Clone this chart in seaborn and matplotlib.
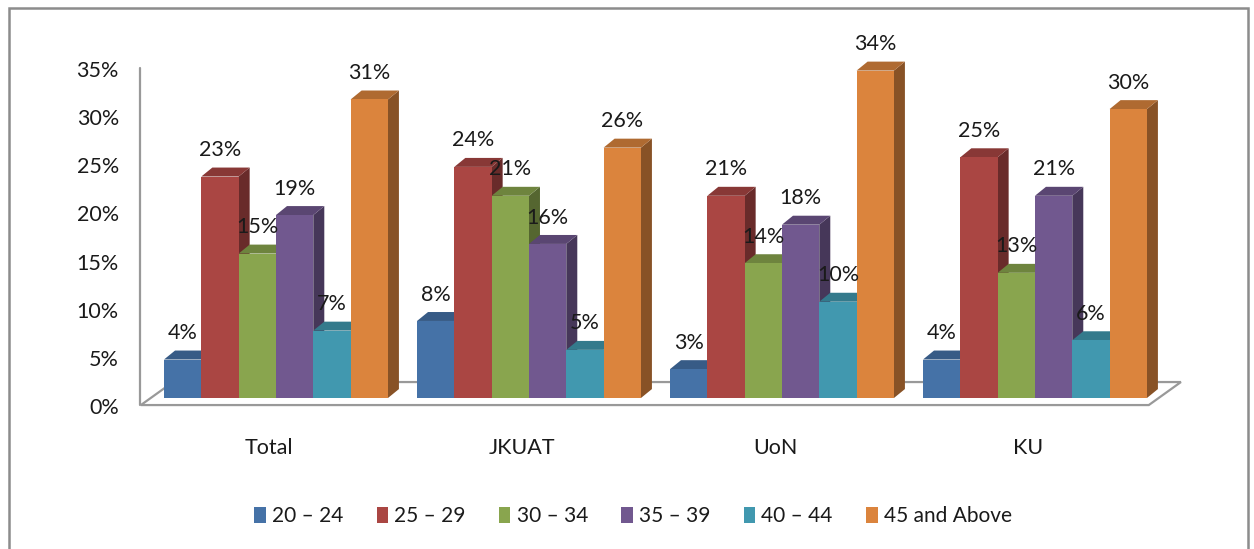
import pandas as pd
import seaborn as sns
import matplotlib.pyplot as plt
from matplotlib.patches import Polygon, Rectangle
from matplotlib.transforms import ScaledTranslation
from matplotlib.ticker import PercentFormatter

universities = ["Total", "JKUAT", "UoN", "KU"]
age_groups = ["20 – 24", "25 – 29", "30 – 34", "35 – 39", "40 – 44", "45 and Above"]
age_20_24 = [4, 8, 3, 4]
age_25_29 = [23, 24, 21, 25]
age_30_34 = [15, 21, 14, 13]
age_35_39 = [19, 16, 18, 21]
age_40_44 = [7, 5, 10, 6]
age_45_up = [31, 26, 34, 30]
colors = ["#4572A7", "#AA4643", "#89A54E", "#71588F", "#4198AF", "#DB843D"]

series = [age_20_24, age_25_29, age_30_34, age_35_39, age_40_44, age_45_up]
rows = []
for grp, vals in zip(age_groups, series):
    for uni, v in zip(universities, vals):
        rows.append((uni, grp, v))
df = pd.DataFrame(rows, columns=["university", "age", "pct"])

sns.set_style("white")
plt.rcParams["font.family"] = ["Lato", "DejaVu Sans"]

fig = plt.figure(figsize=(12.54, 5.49), dpi=100)
ax = fig.add_axes([0.1192, 0.275, 0.807, 0.614])

sns.barplot(data=df, x="university", y="pct", hue="age", order=universities,
            hue_order=age_groups, palette=colors, width=0.885, gap=0,
            saturation=1, linewidth=0, ax=ax, zorder=3)

ax.set_xlim(-0.5, 3.5)
ax.set_ylim(0, 35)
ax.set_yticks(range(0, 36, 5))
ax.yaxis.set_major_formatter(PercentFormatter(xmax=100, decimals=0))
ax.set_xlabel("")
ax.set_ylabel("")
for s in ax.spines.values():
    s.set_visible(False)
ax.tick_params(axis="y", length=0, pad=22, labelsize=15.5, labelcolor="#1a1a1a")
ax.tick_params(axis="x", length=0, pad=29, labelsize=15.5, labelcolor="#1a1a1a")
for lab in ax.get_yticklabels():
    lab.set_transform(lab.get_transform() + ScaledTranslation(0, -0.08, fig.dpi_scale_trans))
for lab in ax.get_xticklabels():
    lab.set_transform(lab.get_transform() + ScaledTranslation(-0.07, 0, fig.dpi_scale_trans))

# pseudo 3D depth (data units)
dx, dy = 0.0435, 0.93

# floor and back wall edge
floor = Polygon([(-0.534, -0.73), (3.45, -0.73), (3.577, 1.66), (-0.407, 1.66)],
                closed=True, facecolor="white", edgecolor="#999999", lw=1.6,
                zorder=1, clip_on=False)
ax.add_patch(floor)
ax.plot([-0.537, -0.537], [-0.73, 34.3], color="#999999", lw=1.6, zorder=1, clip_on=False)


def shade(c, f):
    r, g, b = [int(c[i:i + 2], 16) / 255 for i in (1, 3, 5)]
    return (r * f, g * f, b * f)


for cont, col in zip(ax.containers, colors):
    for bar in cont:
        x0 = bar.get_x()
        x1 = x0 + bar.get_width()
        h = bar.get_height()
        top = Polygon([(x0, h), (x1, h), (x1 + dx, h + dy), (x0 + dx, h + dy)],
                      closed=True, facecolor=shade(col, 0.8), lw=0, zorder=2.5, clip_on=False)
        side = Polygon([(x1, 0), (x1 + dx, dy), (x1 + dx, h + dy), (x1, h)],
                       closed=True, facecolor=shade(col, 0.62), lw=0, zorder=2, clip_on=False)
        ax.add_patch(top)
        ax.add_patch(side)
        ax.annotate(f"{h:.0f}%", (x0 + bar.get_width() / 2, h), xytext=(0, 19),
                    textcoords="offset points", ha="center", va="center",
                    fontsize=15.5, color="#1a1a1a", zorder=6, annotation_clip=False)

handles, labels = ax.get_legend_handles_labels()
ax.legend(handles, labels, loc="center", bbox_to_anchor=(633 / 1254, 1 - 516 / 549),
          bbox_transform=fig.transFigure, ncol=6, frameon=False, fontsize=15,
          handlelength=0.55, handleheight=0.8, handletextpad=0.3, columnspacing=1.6,
          labelcolor="#1a1a1a")

fig.patches.append(Rectangle((9 / 1254, -0.02), 1239 / 1254, 1.02 - 8 / 549,
                             transform=fig.transFigure, fill=False,
                             edgecolor="#8c8c8c", lw=1.8))

plt.savefig("out.png", dpi=100)
plt.close()
